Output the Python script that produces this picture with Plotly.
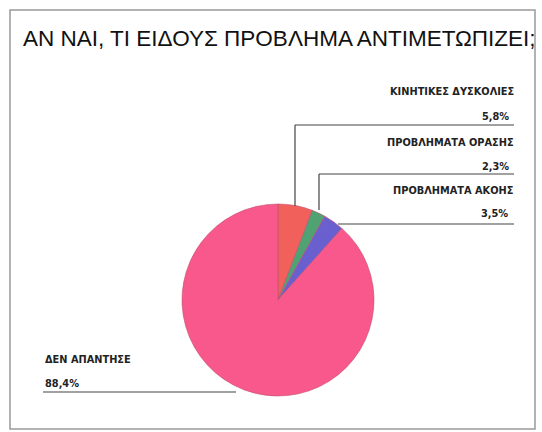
import plotly.graph_objects as go

labels = ["ΚΙΝΗΤΙΚΕΣ ΔΥΣΚΟΛΙΕΣ", "ΠΡΟΒΛΗΜΑΤΑ ΟΡΑΣΗΣ", "ΠΡΟΒΛΗΜΑΤΑ ΑΚΟΗΣ", "ΔΕΝ ΑΠΑΝΤΗΣΕ"]
values = [5.8, 2.3, 3.5, 88.4]
pct_text = ["5,8%", "2,3%", "3,5%", "88,4%"]
colors = ["#F2605C", "#4FA272", "#6A5FCF", "#F8588B"]

W, H = 542, 432
def px(x): return x / W
def py(y): return 1 - y / H

cx, cy, r = 278, 300, 96

fig = go.Figure(go.Pie(
    labels=labels, values=values, sort=False, direction="clockwise", rotation=0,
    marker=dict(colors=colors, line=dict(color="#C0506E", width=0.6)),
    textinfo="none", hoverinfo="label+percent", showlegend=False,
    domain=dict(x=[px(cx - r), px(cx + r)], y=[py(cy + r), py(cy - r)]),
))

font_lbl = dict(family="DejaVu Sans", size=9.8, color="#222")
ann = []
shapes = []
# label layout (name y, pct y, underline y, underline x0, x1, vertical-to-pie end y, anchor, text x)
layout_pos = [
    (91, 116, 125, 295, 514, 206, "right", 516),
    (142, 166, 174, 319, 514, 210, "right", 516),
    (190, 213, 224, 338, 514, None, "right", 515),
    (359, 383, 392, 43, 236, None, "left", 43),
]
for lab, pt, (yn, yp, yl, x0, x1, yv, anc, xa) in zip(labels, pct_text, layout_pos):
    ann.append(dict(x=px(xa), y=py(yn), xref="paper", yref="paper", text="<b>" + lab + "</b>",
                    showarrow=False, xanchor=anc, yanchor="middle", font=font_lbl))
    ann.append(dict(x=px(xa - 5 if anc == "right" else xa), y=py(yp), xref="paper", yref="paper",
                    text="<b>" + pt + "</b>",
                    showarrow=False, xanchor=anc, yanchor="middle", font=font_lbl))
    shapes.append(dict(type="line", xref="paper", yref="paper", x0=px(x0), x1=px(x1),
                       y0=py(yl), y1=py(yl), line=dict(color="#444", width=1.2)))
    if yv is not None:
        shapes.append(dict(type="line", xref="paper", yref="paper", x0=px(x0), x1=px(x0),
                           y0=py(yl), y1=py(yv), line=dict(color="#444", width=1.2)))

# frame
shapes.append(dict(type="rect", xref="paper", yref="paper", x0=px(10), x1=px(535),
                   y0=py(429), y1=py(10), line=dict(color="#999", width=1.5), layer="below"))

ann.append(dict(x=px(21), y=py(38), xref="paper", yref="paper",
                text="ΑΝ ΝΑΙ, ΤΙ ΕΙΔΟΥΣ ΠΡΟΒΛΗΜΑ ΑΝΤΙΜΕΤΩΠΙΖΕΙ;", showarrow=False,
                xanchor="left", yanchor="middle",
                font=dict(family="Liberation Sans, Arial", size=22.5, color="#111")))

fig.update_layout(width=W, height=H, margin=dict(l=0, r=0, t=0, b=0),
                  paper_bgcolor="white", plot_bgcolor="white",
                  annotations=ann, shapes=shapes)
fig.write_html("out.html")
